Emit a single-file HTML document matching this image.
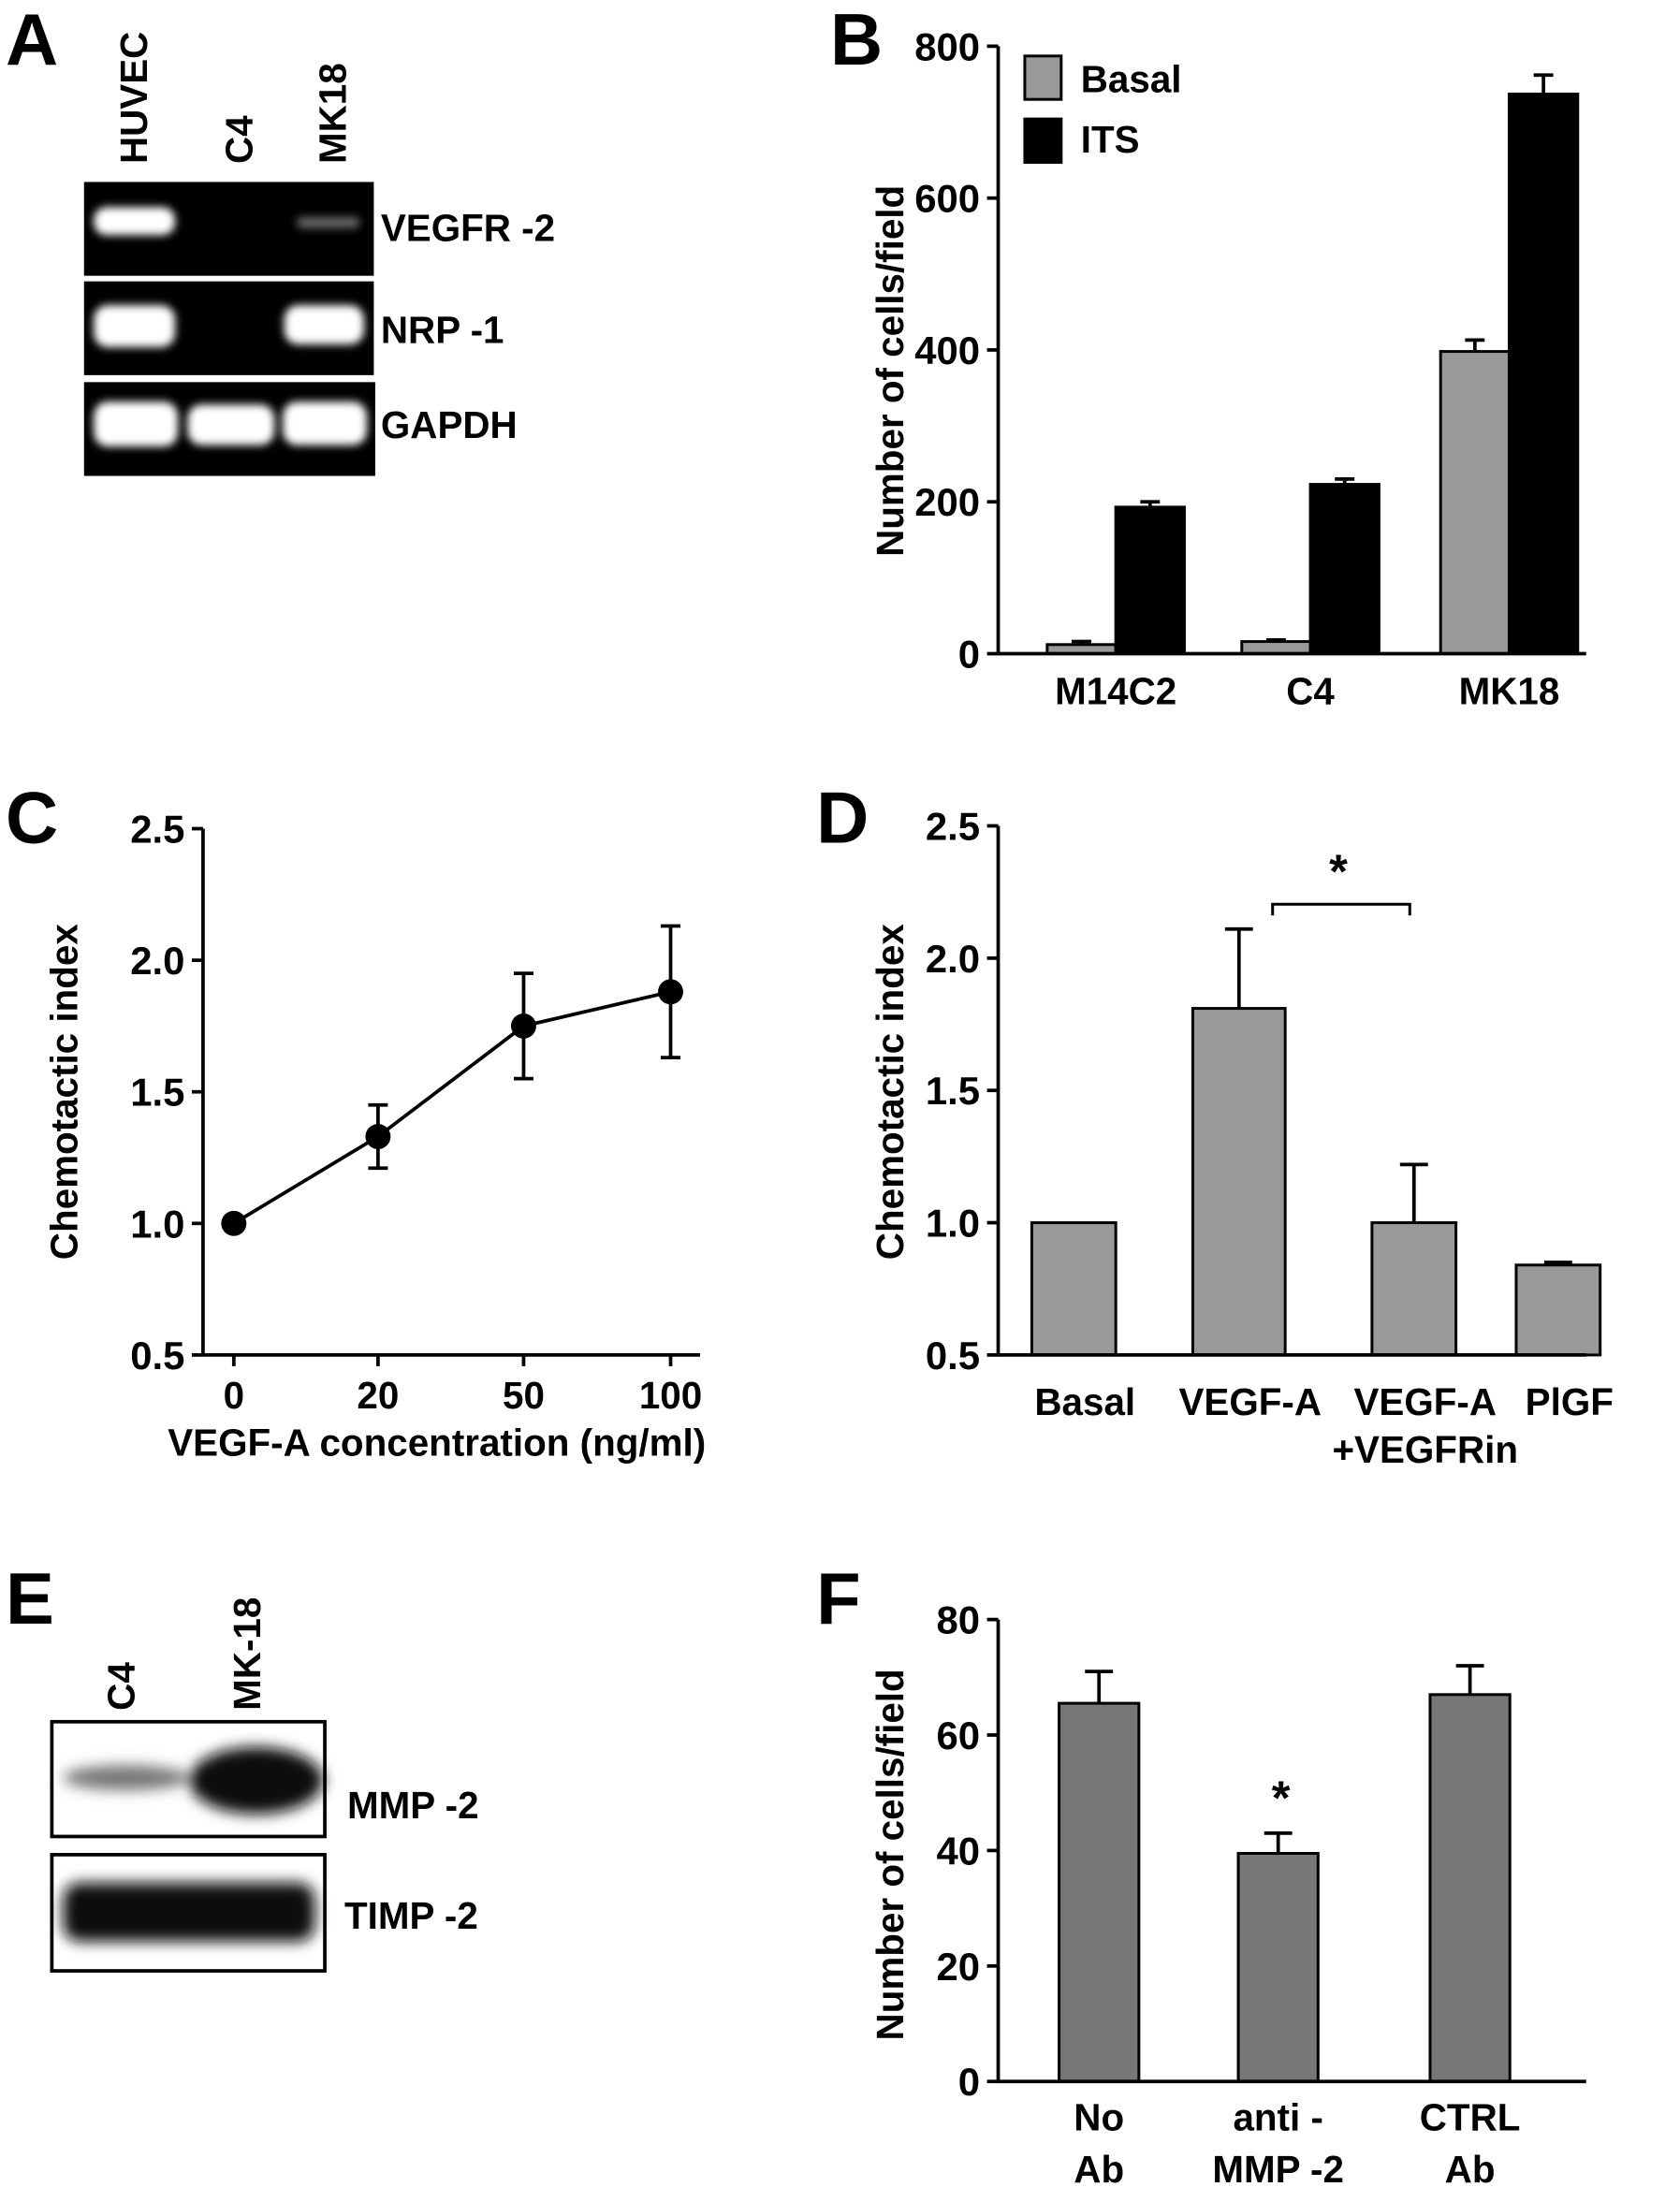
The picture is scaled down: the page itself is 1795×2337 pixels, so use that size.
<!DOCTYPE html>
<html><head><meta charset="utf-8"><style>
html,body{margin:0;padding:0;background:#fff}
svg{display:block}
text{font-family:"Liberation Sans",Arial,sans-serif;font-weight:bold;fill:#000}
</style></head><body>
<svg id="fig" width="1795" height="2337" viewBox="0 0 1200 1562.4" xmlns="http://www.w3.org/2000/svg">
<defs>
<filter id="blur" x="-20%" y="-50%" width="140%" height="200%"><feGaussianBlur stdDeviation="3"/></filter>
<filter id="blur2" x="-20%" y="-50%" width="140%" height="200%"><feGaussianBlur stdDeviation="5"/></filter>
</defs>

<g>
<text x="4" y="46" font-size="52">A</text>
<text transform="translate(105,117) rotate(-90)" font-size="27">HUVEC</text>
<text transform="translate(180,117) rotate(-90)" font-size="27">C4</text>
<text transform="translate(247,117) rotate(-90)" font-size="27">MK18</text>
<rect x="60" y="130" width="207" height="67" fill="#000"/>
<rect x="60" y="201" width="207" height="67" fill="#000"/>
<rect x="60" y="273" width="208" height="67" fill="#000"/>
<g filter="url(#blur)">
<rect x="67" y="148" width="58" height="20" rx="9" fill="#fff"/>
<rect x="212" y="155" width="45" height="8" rx="4" fill="#666"/>
<rect x="67" y="218" width="58" height="30" rx="10" fill="#fff"/>
<rect x="203" y="218" width="57" height="28" rx="10" fill="#fff"/>
<rect x="67" y="287" width="60" height="32" rx="10" fill="#fff"/>
<rect x="134" y="289" width="62" height="29" rx="10" fill="#fff"/>
<rect x="202" y="287" width="60" height="31" rx="10" fill="#fff"/>
</g>
<text x="272" y="172" font-size="27">VEGFR -2</text>
<text x="272" y="245" font-size="27">NRP -1</text>
<text x="272" y="313" font-size="27">GAPDH</text>
</g>

<g>
<text x="4" y="1160" font-size="52">E</text>
<text transform="translate(96,1222) rotate(-90)" font-size="27">C4</text>
<text transform="translate(186,1222) rotate(-90)" font-size="27">MK-18</text>
<rect x="37" y="1230" width="195" height="82" fill="#fff" stroke="#000" stroke-width="2.5"/>
<rect x="37" y="1325" width="195" height="83" fill="#fff" stroke="#000" stroke-width="2.5"/>
<g filter="url(#blur2)">
<ellipse cx="90" cy="1270" rx="45" ry="9" fill="#777"/>
<ellipse cx="183" cy="1272" rx="48" ry="24" fill="#111"/>
<rect x="45" y="1345" width="180" height="42" rx="12" fill="#111"/>
</g>
<text x="248" y="1299" font-size="27">MMP -2</text>
<text x="246" y="1378" font-size="27">TIMP -2</text>
</g>

<g id="charts"></g>
</svg>
<script>
const bCategories = ["M14C2", "C4", "MK18"];
const bBasal = [12, 16, 398];
const bBasalErr = [4, 2, 15];
const bITS = [193, 223, 737];
const bITSErr = [7, 7, 25];
const bTicks = [0, 200, 400, 600, 800];
const cConc = ["0", "20", "50", "100"];
const cValues = [1.0, 1.33, 1.75, 1.88];
const cErr = [0, 0.12, 0.2, 0.25];
const cTicks = [0.5, 1.0, 1.5, 2.0, 2.5];
const dCategories = [["Basal"], ["VEGF-A"], ["VEGF-A", "+VEGFRin"], ["PlGF"]];
const dValues = [1.0, 1.81, 1.0, 0.84];
const dErr = [0, 0.3, 0.22, 0.01];
const dTicks = [0.5, 1.0, 1.5, 2.0, 2.5];
const fCategories = [["No", "Ab"], ["anti -", "MMP -2"], ["CTRL", "Ab"]];
const fValues = [65.5, 39.5, 67];
const fErr = [5.5, 3.5, 5];
const fTicks = [0, 20, 40, 60, 80];

const NS = "http://www.w3.org/2000/svg";
const root = document.getElementById("charts");
function mk(tag, attrs, parent, txt) {
  const e = document.createElementNS(NS, tag);
  for (const k in attrs) e.setAttribute(k, attrs[k]);
  if (txt !== undefined) e.textContent = txt;
  (parent || root).appendChild(e);
  return e;
}
function lin(d0, d1, r0, r1) { return v => r0 + (v - d0) * (r1 - r0) / (d1 - d0); }

function axes(g, x0, x1, y, yTop, ticks, ys, fmt, name) {
  let a = mk("line", {x1: x0, y1: yTop, x2: x0, y2: y, stroke: "#000", "stroke-width": 2.5}, g);
  
  
  let b = mk("line", {x1: x0, y1: y, x2: x1, y2: y, stroke: "#000", "stroke-width": 2.5}, g);
  
  
  ticks.forEach(t => {
    mk("line", {x1: x0 - 8, y1: ys(t), x2: x0, y2: ys(t), stroke: "#000", "stroke-width": 2.5}, g);
    const tl = mk("text", {x: x0 - 13, y: ys(t) + 10, "font-size": 28, "text-anchor": "end"}, g, fmt(t));
    
    
  });
}
function errBar(g, x, yv, ye, w, name) {
  const l = mk("line", {x1: x, y1: yv, x2: x, y2: ye, stroke: "#000", "stroke-width": 2.5}, g);
  
  
  mk("line", {x1: x - w, y1: ye, x2: x + w, y2: ye, stroke: "#000", "stroke-width": 2.5}, g);
}
function label(g, x, y, txt, size, name, anchor) {
  const t = mk("text", {x: x, y: y, "font-size": size, "text-anchor": anchor || "middle"}, g, txt);
  
  
  return t;
}
function ytitle(g, x, y, txt, name) {
  const t = mk("text", {transform: `translate(${x},${y}) rotate(-90)`, "font-size": 27, "text-anchor": "middle"}, g, txt);
  
  
}

(function () {
  const g = mk("g", {});
  
  
  label(g, 593, 46, "B", 52, "panel-b-letter", "start");
  const ys = lin(0, 800, 467, 33);
  const centers = [797, 936, 1078];
  const bw = 49;
  bCategories.forEach((c, i) => {
    const xc = centers[i];
    const r1 = mk("rect", {x: xc - bw, y: ys(bBasal[i]), width: bw, height: ys(0) - ys(bBasal[i]), fill: "#999", stroke: "#000", "stroke-width": 2}, g);
    
    
    errBar(g, xc - bw / 2, ys(bBasal[i]), ys(bBasal[i] + bBasalErr[i]), 7, 'error-basal-' + c.toLowerCase());
    const r2 = mk("rect", {x: xc, y: ys(bITS[i]), width: bw, height: ys(0) - ys(bITS[i]), fill: "#000", stroke: "#000", "stroke-width": 2}, g);
    
    
    errBar(g, xc + bw / 2, ys(bITS[i]), ys(bITS[i] + bITSErr[i]), 7, 'error-its-' + c.toLowerCase());
    label(g, xc, 503, c, 27, 'x-label-' + c.toLowerCase());
  });
  axes(g, 713, 1133, 467, 33, bTicks, ys, t => String(t), 'panel-b');
  ytitle(g, 645, 265, "Number of cells/field", "panel-b-y-title");
  const l1 = mk("rect", {x: 732, y: 40, width: 26, height: 31, fill: "#999", stroke: "#000", "stroke-width": 2}, g);
  
  
  label(g, 772, 66, "Basal", 27, "legend-label-basal", "start");
  const l2 = mk("rect", {x: 732, y: 85, width: 26, height: 31, fill: "#000", stroke: "#000", "stroke-width": 2}, g);
  
  
  label(g, 772, 109, "ITS", 27, "legend-label-its", "start");
})();

(function () {
  const g = mk("g", {});
  
  
  label(g, 4, 602, "C", 52, "panel-c-letter", "start");
  const ys = lin(0.5, 2.5, 968, 592);
  const xsPos = [167, 270, 374, 479];
  axes(g, 145, 500, 968, 592, cTicks, ys, t => t.toFixed(1), 'panel-c');
  let pts = cValues.map((v, i) => `${xsPos[i]},${ys(v)}`).join(" ");
  const pl = mk("polyline", {points: pts, fill: "none", stroke: "#000", "stroke-width": 2.5}, g);
  
  
  cValues.forEach((v, i) => {
    if (cErr[i] > 0) {
      errBar(g, xsPos[i], ys(v), ys(v + cErr[i]), 7, 'error-up-' + cConc[i]);
      errBar(g, xsPos[i], ys(v), ys(v - cErr[i]), 7, 'error-down-' + cConc[i]);
    }
    const c = mk("circle", {cx: xsPos[i], cy: ys(v), r: 9, fill: "#000"}, g);
    
    
    mk("line", {x1: xsPos[i], y1: 968, x2: xsPos[i], y2: 976, stroke: "#000", "stroke-width": 2.5}, g);
    label(g, xsPos[i], 1006, cConc[i], 27, 'x-label-' + cConc[i]);
  });
  label(g, 312, 1040, "VEGF-A concentration (ng/ml)", 27, "panel-c-x-title");
  ytitle(g, 55, 780, "Chemotactic index", "panel-c-y-title");
})();

(function () {
  const g = mk("g", {});
  
  
  label(g, 583, 602, "D", 52, "panel-d-letter", "start");
  const ys = lin(0.5, 2.5, 968, 590);
  const centers = [767, 885, 1010, 1113];
  const bws = [60, 66, 60, 60];
  dValues.forEach((v, i) => {
    const bw = bws[i];
    const nm = dCategories[i].join('-').toLowerCase().replace(/\+/g, '');
    const r = mk("rect", {x: centers[i] - bw / 2, y: ys(v), width: bw, height: ys(0.5) - ys(v), fill: "#999", stroke: "#000", "stroke-width": 2}, g);
    
    
    if (dErr[i] > 0) errBar(g, centers[i], ys(v), ys(v + dErr[i]), 10, 'error-' + nm);
    dCategories[i].forEach((ln, j) => label(g, centers[i] + 8, 1011 + j * 34, ln, 27, 'x-label-' + nm));
  });
  axes(g, 713, 1133, 968, 590, dTicks, ys, t => t.toFixed(1), 'panel-d');
  const br = mk("polyline", {points: `${centers[1] + 24},654 ${centers[1] + 24},646 ${centers[2] - 3},646 ${centers[2] - 3},654`, fill: "none", stroke: "#000", "stroke-width": 2}, g);
  
  
  label(g, 956, 634, "*", 34, "significance-star-d");
  ytitle(g, 645, 780, "Chemotactic index", "panel-d-y-title");
})();

(function () {
  const g = mk("g", {});
  
  
  label(g, 583, 1160, "F", 52, "panel-f-letter", "start");
  const ys = lin(0, 80, 1487, 1157);
  const centers = [785, 913, 1050];
  const bw = 57;
  fValues.forEach((v, i) => {
    const nm = fCategories[i].join('-').toLowerCase().replace(/ /g, '');
    const r = mk("rect", {x: centers[i] - bw / 2, y: ys(v), width: bw, height: ys(0) - ys(v), fill: "#777", stroke: "#000", "stroke-width": 2}, g);
    
    
    errBar(g, centers[i], ys(v), ys(v + fErr[i]), 10, 'error-' + nm);
    fCategories[i].forEach((ln, j) => label(g, centers[i], 1522 + j * 37, ln, 27, 'x-label-' + nm));
  });
  label(g, 915, 1296, "*", 34, "significance-star-f");
  axes(g, 713, 1133, 1487, 1157, fTicks, ys, t => String(t), 'panel-f');
  ytitle(g, 645, 1325, "Number of cells/field", "panel-f-y-title");
})();
</script>
</body></html>
